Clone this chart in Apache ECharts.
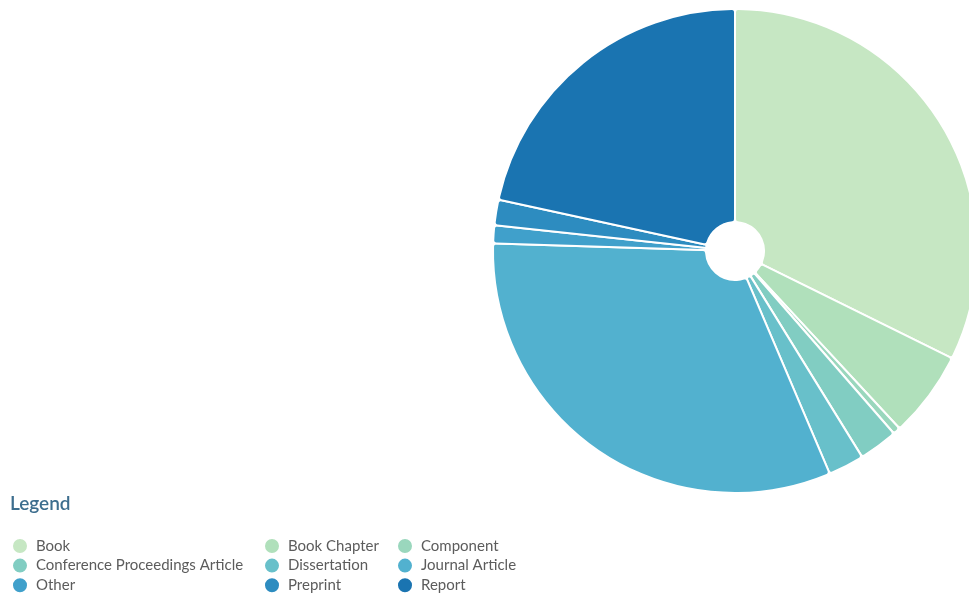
<!DOCTYPE html>
<html>
<head>
<meta charset="utf-8">
<script src="https://cdn.jsdelivr.net/npm/echarts@6/dist/echarts.min.js"></script>
<style>
html,body{margin:0;padding:0;background:#fff;}
#chart{width:969px;height:593px;}
</style>
</head>
<body>
<div id="chart"></div>
<script>
const categories = ["Book","Book Chapter","Component","Conference Proceedings Article","Dissertation","Journal Article","Other","Preprint","Report"];
const values = [323, 58, 5, 26, 24, 319, 12, 17, 216];
const colors = ["#c6e7c3","#b0e0bb","#9ad7bd","#81cdc2","#68c0ca","#52b1cf","#40a0cb","#2d8cc0","#1a74b1"];
const legendColumns = [
  ["Book","Conference Proceedings Article","Other"],
  ["Book Chapter","Dissertation","Preprint"],
  ["Component","Journal Article","Report"]
];
const legendLefts = [11, 263, 396];

const chart = echarts.init(document.getElementById('chart'), null, {renderer:'canvas'});
const legendCommon = {
  orient: 'vertical',
  top: 537,
  height: 100,
  itemWidth: 16,
  itemHeight: 16,
  itemGap: 1.6,
  icon: 'circle',
  textStyle: {fontFamily: 'Lato', fontSize: 15, color: '#5c5c5c', lineHeight: 15, padding: [0, 0, 0, 3]},
  selectedMode: true,
  padding: 0
};
chart.setOption({
  animation: false,
  color: colors,
  title: {
    text: 'Legend', left: 10, top: 494, padding: 0,
    textStyle: {fontFamily: 'Lato', fontSize: 19, fontWeight: 600, color: '#3d6e8e'}
  },
  legend: legendColumns.map((col, i) => Object.assign({}, legendCommon, {left: legendLefts[i], data: col})),
  series: [{
    type: 'pie',
    center: [735, 251],
    radius: [29, 242],
    startAngle: 90,
    clockwise: true,
    label: {show: false},
    labelLine: {show: false},
    itemStyle: {borderColor: '#fff', borderWidth: 2, borderRadius: 3},
    data: categories.map((c, i) => ({name: c, value: values[i]}))
  }]
});
</script>
</body>
</html>
